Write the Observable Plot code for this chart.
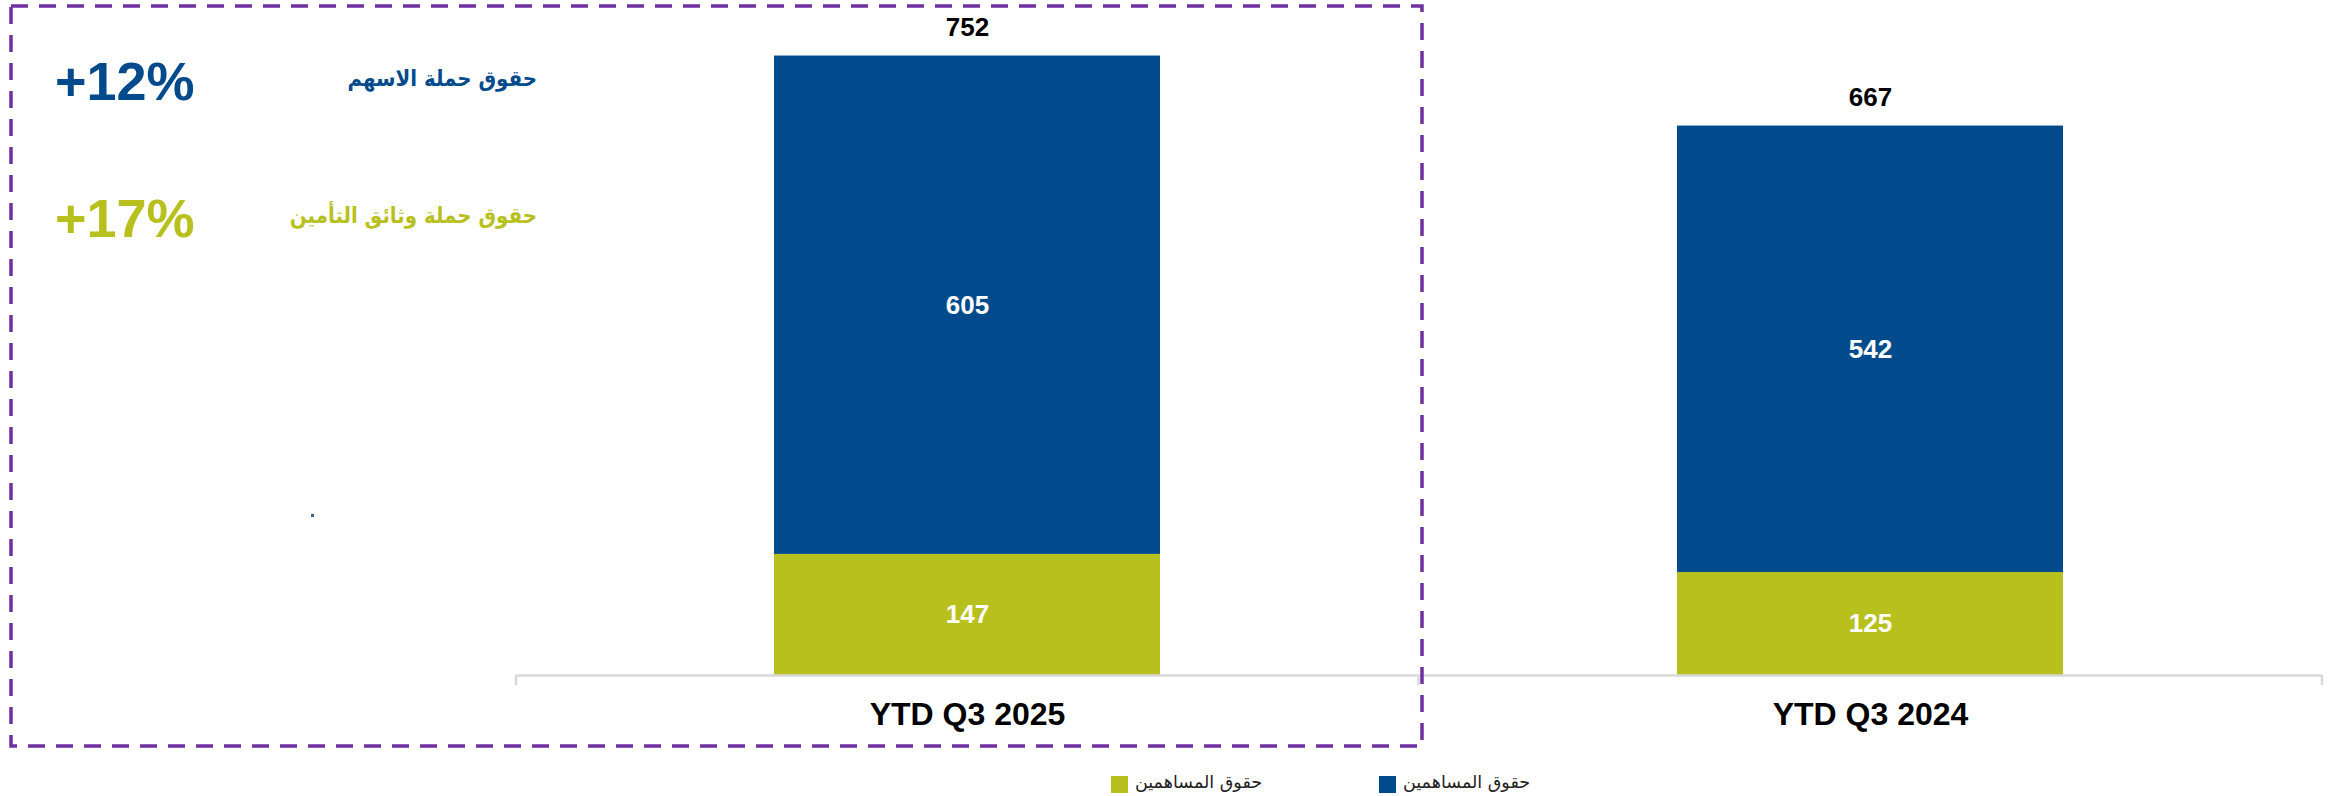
<!DOCTYPE html>
<html><head><meta charset="utf-8">
<script src="https://cdn.jsdelivr.net/npm/d3@7"></script>
<script src="https://cdn.jsdelivr.net/npm/@observablehq/plot@0.6"></script>
<style>
body{margin:0;background:#fff;}
#wrap{position:relative;width:2343px;height:796px;overflow:hidden;background:#fff;}
#wrap > svg{position:absolute;left:0;top:0;}
</style></head><body><div id="wrap"></div>
<script>
// ---- data ----
const periods = ["YTD Q3 2025", "YTD Q3 2024"];
const seriesNames = ["حقوق حملة وثائق التأمين", "حقوق حملة الاسهم"]; // bottom, top
const policyholders = [147, 125];
const shareholders = [605, 542];
const growthLabels = ["+12%", "+17%"];               // shareholders, policyholders
const growthNames = ["حقوق حملة الاسهم", "حقوق حملة وثائق التأمين"];
const legendLabels = ["حقوق المساهمين", "حقوق المساهمين"]; // olive, blue
const colors = ["#B8C01E", "#014B8C"];
const growthColors = ["#014B8C", "#B8C01E"];

const rows = periods.flatMap((p, i) => [
  {period: p, series: seriesNames[0], value: policyholders[i]},
  {period: p, series: seriesNames[1], value: shareholders[i]}
]);
const totals = periods.map((p, i) => ({period: p, total: policyholders[i] + shareholders[i]}));

const latin = "Liberation Sans, Arial, sans-serif";
const arabic = "DejaVu Sans Condensed, DejaVu Sans, sans-serif";
const arabicWide = "DejaVu Sans, sans-serif";

function boundaryTicks(index, scales, values, dims) {
  const x = scales.x;
  const bw = typeof x.bandwidth === "function" ? x.bandwidth() : (x.bandwidth || 0);
  const centers = periods.map(p => x(p) + bw / 2);
  const xs = [dims.marginLeft, ...d3.pairs(centers).map(([a, b]) => (a + b) / 2), dims.width - dims.marginRight];
  const y0 = scales.y(0);
  const g = d3.create("svg:g");
  g.selectAll("line").data(xs).join("line")
    .attr("x1", d => d).attr("x2", d => d)
    .attr("y1", y0).attr("y2", y0 + 10)
    .attr("stroke", "#d9d9d9").attr("stroke-width", 2.5);
  return g.node();
}

const chart = Plot.plot({
  width: 2343,
  height: 796,
  marginLeft: 516,
  marginRight: 21,
  marginTop: 16,
  marginBottom: 121,
  style: {fontFamily: latin, background: "white", overflow: "visible"},
  x: {domain: periods, paddingInner: 0.5725, paddingOuter: 0.286},
  y: {domain: [0, 800], axis: null},
  color: {domain: seriesNames, range: colors},
  marks: [
    Plot.barY(rows, {x: "period", y: "value", fill: "series"}),
    Plot.text(rows, Plot.stackY({x: "period", y: "value", z: "series", text: d => String(d.value),
      fill: "white", fontSize: 26, fontWeight: "bold"})),
    Plot.text(totals, {x: "period", y: "total", text: d => String(d.total), dy: -28,
      fill: "black", fontSize: 26, fontWeight: "bold"}),
    Plot.ruleY([0], {stroke: "#d9d9d9", strokeWidth: 2.5}),
    boundaryTicks,
    Plot.axisX({tickSize: 0, tickPadding: 27, fontSize: 32, fontWeight: "bold", color: "black", label: null})
  ]
});
const wrap = document.getElementById("wrap");
wrap.appendChild(chart);

// ---- overlay: highlight box, growth annotations, legend ----
const ov = d3.select(wrap).append("svg")
  .attr("width", 2343).attr("height", 796)
  .style("pointer-events", "none");

ov.append("rect")
  .attr("x", 11).attr("y", 6).attr("width", 1411).attr("height", 740)
  .attr("fill", "none").attr("stroke", "#7030A0").attr("stroke-width", 3.5)
  .attr("stroke-dasharray", "17 11");

const annY = [100, 237];
growthLabels.forEach((g, i) => {
  ov.append("text").attr("x", 55).attr("y", annY[i])
    .attr("font-family", latin).attr("font-weight", "bold").attr("font-size", 54)
    .attr("fill", growthColors[i]).text(g);
  ov.append("text").attr("x", 537).attr("y", annY[i] - 14).attr("text-anchor", "end")
    .attr("font-family", arabic).attr("font-weight", "bold").attr("font-size", 22)
    .attr("fill", growthColors[i]).text(growthNames[i]);
});

// stray dot in reference
ov.append("rect").attr("x", 311).attr("y", 514).attr("width", 3).attr("height", 3).attr("fill", "#3a6a7a");

const legX = [1111, 1379];
legendLabels.forEach((l, i) => {
  ov.append("rect").attr("x", legX[i]).attr("y", 776).attr("width", 17).attr("height", 17).attr("fill", colors[i]);
  ov.append("text").attr("x", legX[i] + 24).attr("y", 788)
    .attr("font-family", arabicWide).attr("font-size", 17.5).attr("fill", "#222").text(l);
});
</script></body></html>
